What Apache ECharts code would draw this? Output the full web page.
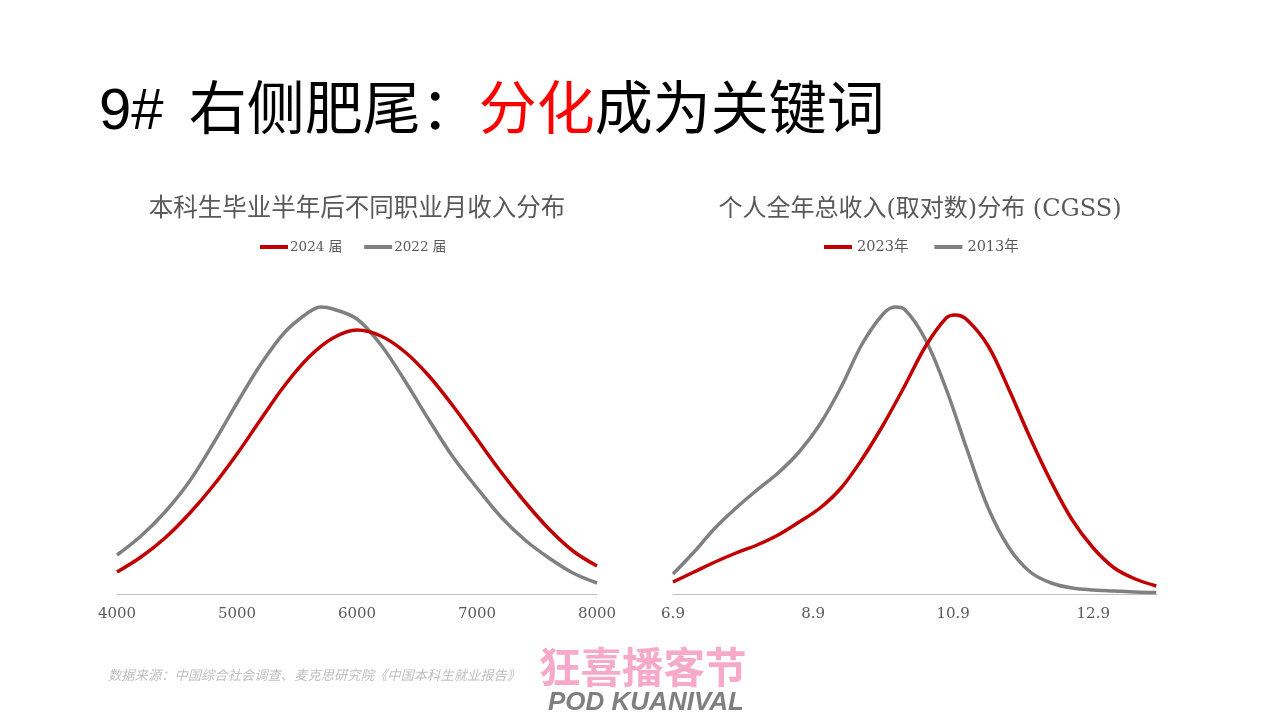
<!DOCTYPE html>
<html>
<head>
<meta charset="utf-8">
<script src="https://cdn.jsdelivr.net/npm/echarts@6/dist/echarts.min.js"></script>
<style>
html,body{margin:0;padding:0;background:#fff;}
#c{width:1280px;height:720px;}
</style>
</head>
<body>
<div id="c"></div>
<script>
// ---- Left chart: monthly income distribution (density, arbitrary units) ----
const leftX2024 = [4000,4200,4400,4600,4800,5000,5200,5400,5600,5800,6000,6200,6400,6600,6800,7000,7200,7400,7600,7800,8000];
const left2024  = [22,37,56,80,108,140,175,209,237,256,264,258,242,218,188,155,122,92,65,43,28];
const leftX2022 = [4000,4200,4400,4600,4800,5000,5200,5400,5600,5700,5800,6000,6200,6400,6600,6800,7000,7200,7400,7600,7800,8000];
const left2022  = [39,58,82,112,150,191,230,262,282,287,285,275,249,213,174,137,106,77,54,36,21,11];
const leftTicks = [4000,5000,6000,7000,8000];

// ---- Right chart: log annual income distribution (density, arbitrary units) ----
const rightX2023 = [6.9,7.2,7.5,7.8,8.1,8.4,8.7,9.0,9.3,9.6,9.9,10.2,10.5,10.8,10.93,11.1,11.4,11.7,12.0,12.3,12.6,12.9,13.2,13.5,13.8];
const right2023  = [12,22,32,41,49,59,72,86,106,135,169,207,247,276,279,274,248,204,156,112,74,46,26,15,8];
const rightX2013 = [6.9,7.2,7.5,7.8,8.1,8.4,8.7,9.0,9.3,9.6,9.9,10.07,10.2,10.5,10.8,11.1,11.4,11.7,12.0,12.3,12.6,12.9,13.2,13.5,13.8];
const right2013  = [20,42,66,86,104,121,142,170,207,250,280,287,285,255,205,144,86,46,22,11,6,4,3,2,1.5];
const rightTicks = [6.9,8.9,10.9,12.9];

const seriesNames = ['2024 届','2022 届','2023年','2013年'];

const RED = '#c00000', GRAY = '#808080', TXT = '#595959';
const SERIF = "'DejaVu Serif','Noto Sans CJK SC'";
const SANS = "'Liberation Sans','Noto Sans CJK SC'";

const pairs = (xs, ys) => xs.map((x, i) => [x, ys[i]]);

function xAxisCfg(gi, min, max, ticks) {
  return {
    gridIndex: gi, type: 'value', min: min, max: max,
    axisLine: {show: true, lineStyle: {color: '#bfbfbf', width: 1}},
    axisTick: {show: false},
    splitLine: {show: false},
    axisLabel: {customValues: ticks, color: TXT, fontSize: 15, fontFamily: SERIF, margin: 13,
                formatter: v => String(v)}
  };
}
function lineSeries(name, gi, data, color) {
  return {
    name: name, type: 'line', xAxisIndex: gi, yAxisIndex: gi,
    data: data, smooth: 0.34, showSymbol: false, symbol: 'none',
    lineStyle: {color: color, width: 3.5}, itemStyle: {color: color},
    emphasis: {disabled: true}, silent: true
  };
}

const chart = echarts.init(document.getElementById('c'), null, {renderer: 'canvas'});
chart.setOption({
  backgroundColor: '#ffffff',
  animation: false,
  title: [
    {
      text: '{n|9# }{a|右侧肥尾：}{r|分化}{a|成为关键词}',
      left: 99, top: 78, padding: 0,
      textStyle: {
        fontWeight: 'normal',
        rich: {
          n: {fontSize: 58, fontFamily: SANS, fontWeight: 'normal', color: '#000000', lineHeight: 70, padding: [0, 9, 0, 0]},
          a: {fontSize: 58, fontFamily: SANS, fontWeight: 'normal', color: '#000000', lineHeight: 70},
          r: {fontSize: 58, fontFamily: SANS, fontWeight: 'normal', color: '#ff0000', lineHeight: 70}
        }
      }
    },
    {
      text: '本科生毕业半年后不同职业月收入分布',
      left: 357, top: 195, textAlign: 'center', padding: 0,
      textStyle: {fontSize: 24.5, fontWeight: 'normal', color: TXT, fontFamily: SERIF, lineHeight: 30}
    },
    {
      text: '个人全年总收入(取对数)分布 (CGSS)',
      left: 920, top: 195, textAlign: 'center', padding: 0,
      textStyle: {fontSize: 24, fontWeight: 'normal', color: TXT, fontFamily: SERIF, lineHeight: 30}
    }
  ],
  legend: [
    {
      data: [seriesNames[0], seriesNames[1]],
      left: 260, top: 239, padding: 0, itemGap: 22,
      itemWidth: 28, itemHeight: 4, icon: 'rect',
      textStyle: {color: TXT, fontSize: 13.5, fontFamily: SERIF, lineHeight: 16, padding: [0, 0, 0, -3]}
    },
    {
      data: [seriesNames[2], seriesNames[3]],
      left: 824, top: 239, padding: 0, itemGap: 26,
      itemWidth: 28, itemHeight: 4, icon: 'rect',
      textStyle: {color: TXT, fontSize: 14.5, fontFamily: SERIF, lineHeight: 16}
    }
  ],
  grid: [
    {left: 117, width: 480, top: 294, height: 300},
    {left: 673, width: 484, top: 294, height: 300}
  ],
  xAxis: [
    xAxisCfg(0, 4000, 8000, leftTicks),
    xAxisCfg(1, 6.9, 13.81, rightTicks)
  ],
  yAxis: [
    {gridIndex: 0, type: 'value', min: 0, max: 300, show: false},
    {gridIndex: 1, type: 'value', min: 0, max: 300, show: false}
  ],
  series: [
    lineSeries(seriesNames[1], 0, pairs(leftX2022, left2022), GRAY),
    lineSeries(seriesNames[0], 0, pairs(leftX2024, left2024), RED),
    lineSeries(seriesNames[3], 1, pairs(rightX2013, right2013), GRAY),
    lineSeries(seriesNames[2], 1, pairs(rightX2023, right2023), RED)
  ],
  graphic: [
    {
      type: 'text', x: 108, y: 668, silent: true,
      style: {text: '数据来源：中国综合社会调查、麦克思研究院《中国本科生就业报告》', fill: '#bfbfbf',
              font: "italic 13.3px 'Noto Sans CJK SC'"}
    },
    {
      type: 'text', x: 539, y: 646, silent: true,
      style: {text: '狂喜播客节', fill: '#f7a9c9', font: "bold 41.5px 'Noto Sans CJK SC'"}
    },
    {
      type: 'text', x: 548, y: 690, silent: true,
      style: {text: 'POD KUANIVAL', fill: '#7f7f7f', font: "italic bold 26px 'Liberation Sans'"}
    }
  ]
});
</script>
</body>
</html>
